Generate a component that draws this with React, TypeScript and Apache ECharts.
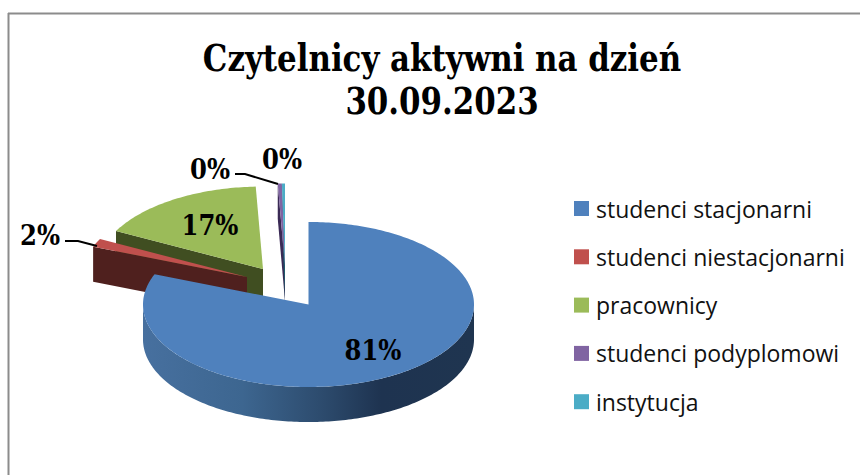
import React, { useEffect, useRef } from "react";
import * as echarts from "echarts";

const categories = ["studenci stacjonarni", "studenci niestacjonarni", "pracownicy", "studenci podyplomowi", "instytucja"];
const shares = [81, 1.6, 16.7, 0.4, 0.3];
const topColors = ["#4f81bd", "#c0504d", "#9bbb59", "#8064a2", "#4bacc6"];
const sideColors = ["#2b4a6e", "#4f201e", "#404e21", "#3a2a55", "#1f5a6b"];
const titleLines = ["Czytelnicy aktywni na dzień", "30.09.2023"];

// layout of the 3D pie
const RX = 165.5, RY = 82.5, DEPTH = 35;
const apexes = [[308.5, 304.5], [247, 277], [263, 269], [285, 266], [285, 266]];
const zOrder = [6, 5, 2, 3, 3];
const labelPos = [[373, 350], [40, 235], [210, 225], [210, 169], [282, 159]];
const leaders: (number[][] | null)[] = [
  null,
  [[65, 241], [78, 241], [97, 246]],
  null,
  [[235, 174], [245, 174], [278, 184]],
  null,
];

const SERIF = "'DejaVu Serif Condensed', 'DejaVu Serif', serif";
const SANS = "'Open Sans', Lato, sans-serif";

const total = shares.reduce((a, b) => a + b, 0);
function startAngle(i: number) {
  let s = 0;
  for (let k = 0; k < i; k++) s += shares[k];
  return (s / total) * 360;
}
function pt(c: number[], deg: number, dy = 0) {
  const a = (deg * Math.PI) / 180;
  return [c[0] + RX * Math.sin(a), c[1] - RY * Math.cos(a) + dy];
}
function arc(c: number[], from: number, to: number, dy = 0) {
  const out: number[][] = [];
  const steps = Math.max(2, Math.ceil(Math.abs(to - from)));
  for (let k = 0; k <= steps; k++) out.push(pt(c, from + ((to - from) * k) / steps, dy));
  return out;
}

function makeRender(i: number) {
  return (_p: any, api: any) => {
    const value = api.value(0);
    const a0 = startAngle(i);
    const a1 = a0 + (value / total) * 360;
    const c = apexes[i];
    const children: any[] = [];
    if (i === 0) {
      const front = arc(c, 90, 270);
      const back = arc(c, 270, 90, DEPTH);
      children.push({
        type: "polygon",
        shape: { points: [...front, ...back] },
        style: {
          fill: new echarts.graphic.LinearGradient(0, 0, 1, 0, [
            { offset: 0, color: "#47709f" },
            { offset: 0.3, color: "#3d6690" },
            { offset: 0.55, color: "#2c4a6c" },
            { offset: 0.72, color: "#1e3350" },
            { offset: 1, color: "#1f3550" },
          ]),
        },
        z2: 1,
      });
    } else {
      const s = pt(c, a0);
      const sd = pt(c, a0, DEPTH);
      children.push({
        type: "polygon",
        shape: { points: [c, s, sd, [c[0], c[1] + DEPTH]] },
        style: { fill: sideColors[i] },
        z2: 1,
      });
    }
    children.push({
      type: "polygon",
      shape: { points: [c, ...arc(c, a0, a1)] },
      style: { fill: topColors[i] },
      z2: 2,
    });
    return { type: "group", children };
  };
}

function makeLabelRender(i: number) {
  return (_p: any, api: any) => {
    const pct = Math.round((api.value(0) / total) * 100);
    const children: any[] = [];
    const line = leaders[i];
    if (line) {
      children.push({ type: "polyline", shape: { points: line }, style: { stroke: "#000", lineWidth: 2, fill: "none" } });
    }
    children.push({
      type: "text",
      style: {
        x: labelPos[i][0],
        y: labelPos[i][1],
        text: `${pct}%`,
        fill: "#000",
        font: `bold 27px ${SERIF}`,
        textAlign: "center",
        textVerticalAlign: "middle",
      },
    });
    return { type: "group", children };
  };
}

export default function App() {
  const ref = useRef<HTMLDivElement>(null);
  useEffect(() => {
    document.body.style.margin = "0";
    const chart = echarts.init(ref.current!, null, { renderer: "svg" });
    const series: any[] = [];
    categories.forEach((name, i) => {
      series.push({
        type: "custom",
        name,
        coordinateSystem: "none",
        z: zOrder[i],
        silent: true,
        itemStyle: { color: topColors[i] },
        data: [[shares[i]]],
        renderItem: makeRender(i),
      });
    });
    categories.forEach((name, i) => {
      series.push({
        type: "custom",
        name: `${name} label`,
        coordinateSystem: "none",
        z: 10,
        silent: true,
        data: [[shares[i]]],
        renderItem: makeLabelRender(i),
      });
    });
    chart.setOption({
      animation: false,
      backgroundColor: "#ffffff",
      legend: {
        data: categories,
        orient: "vertical",
        left: 574,
        top: 197,
        icon: "rect",
        itemWidth: 15,
        itemHeight: 15,
        itemGap: 25.3,
        padding: 0,
        selectedMode: false,
        textStyle: { fontFamily: SANS, fontSize: 23, color: "#111", padding: [0, 0, 0, 2] },
      },
      graphic: [
        { type: "line", shape: { x1: 8.5, y1: 13, x2: 8.5, y2: 475 }, style: { stroke: "#8c8c8c", lineWidth: 2 } },
        { type: "line", shape: { x1: 8, y1: 13.5, x2: 860, y2: 13.5 }, style: { stroke: "#8c8c8c", lineWidth: 2 } },
        ...titleLines.map((t, i) => ({
          type: "text",
          x: 442,
          y: 58 + i * 43,
          scaleX: 0.903,
          style: {
            text: t,
            fill: "#000",
            font: `bold 38px ${SERIF}`,
            textAlign: "center",
            textVerticalAlign: "middle",
          },
        })),
      ],
      series,
    });
    return () => chart.dispose();
  }, []);
  return <div ref={ref} style={{ width: 860, height: 475 }} />;
}
